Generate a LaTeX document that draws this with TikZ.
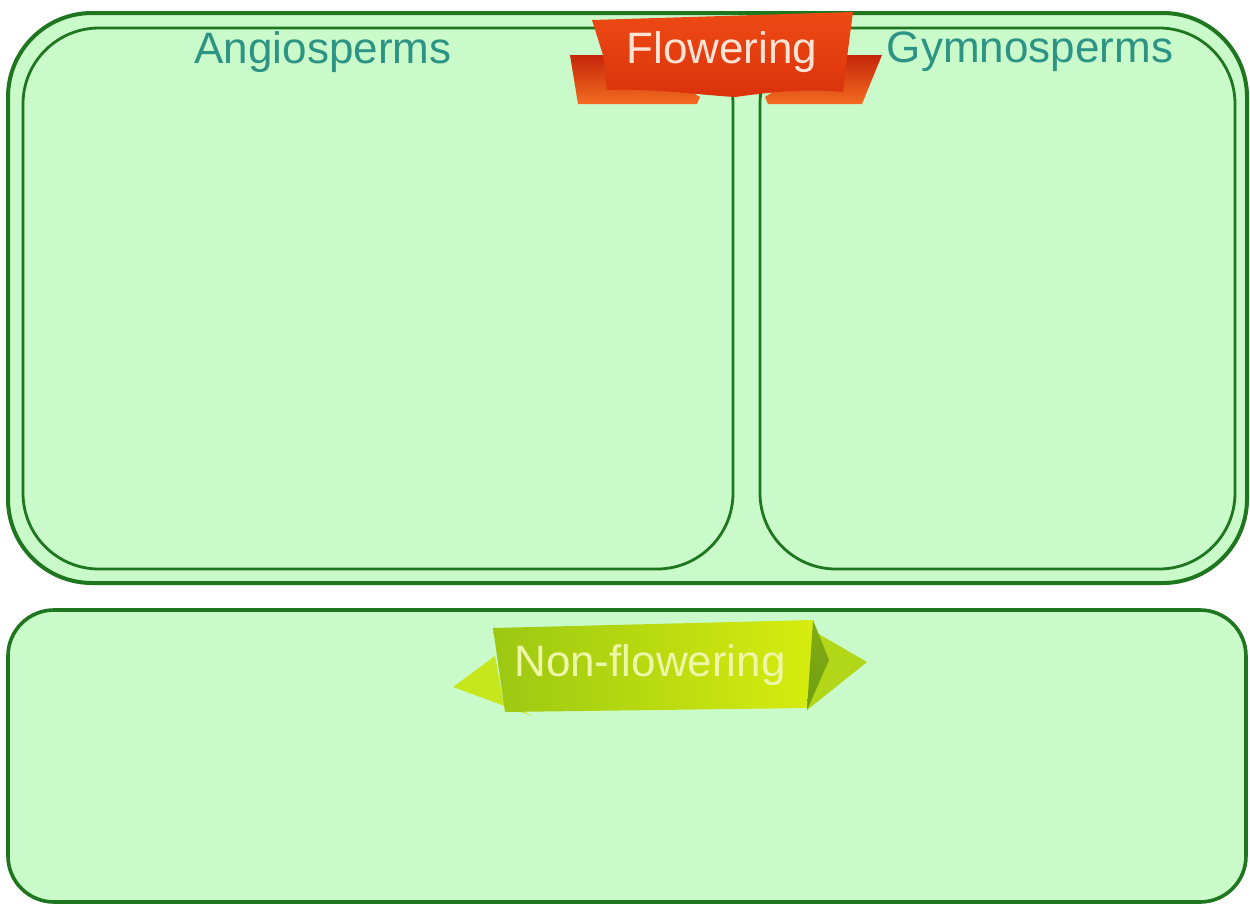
\documentclass[tikz,border=0pt]{standalone}
\usepackage{fontspec}
\setmainfont{Liberation Sans}
\definecolor{boxfill}{RGB}{202,250,202}
\definecolor{boxline}{RGB}{30,118,30}
\definecolor{teal}{RGB}{43,148,132}
\definecolor{redA}{RGB}{238,74,20}
\definecolor{redB}{RGB}{218,50,12}
\definecolor{redDark}{RGB}{196,38,10}
\definecolor{redLight}{RGB}{244,108,32}
\definecolor{flowtext}{RGB}{255,228,214}
\definecolor{limeA}{RGB}{156,200,18}
\definecolor{limeB}{RGB}{214,236,14}
\definecolor{limeTail}{RGB}{198,230,30}
\definecolor{limeTailR}{RGB}{178,214,24}
\definecolor{limeDark}{RGB}{110,158,18}
\definecolor{nftext}{RGB}{238,246,168}
\begin{document}
\begin{tikzpicture}[x=0.5pt,y=-0.5pt,
  outerbox/.style={draw=boxline,line width=2pt,fill=boxfill,rounded corners=42pt},
  innerbox/.style={draw=boxline,line width=1.4pt,rounded corners=38pt},
  lowbox/.style={draw=boxline,line width=1.8pt,fill=boxfill,rounded corners=23pt},
  title/.style={font=\fontsize{22}{24}\selectfont,text=teal,inner sep=0pt},
  bannertext/.style={font=\fontsize{22}{24}\selectfont,inner sep=0pt}]
\useasboundingbox (0,0) rectangle (1250,912);
\fill[white] (0,0) rectangle (1250,912);
% top group
\draw[outerbox] (8,13) rectangle (1247,583);
\draw[innerbox] (23,28) rectangle (733,569);
\draw[innerbox] (760,28) rectangle (1235,569);
% bottom box
\draw[lowbox] (8,610) rectangle (1246,902);
% Flowering ribbon
\shade[top color=redDark,bottom color=redLight] (570,55) -- (628,55) -- (700,97) -- (697,104) -- (578,104) -- cycle;
\shade[top color=redDark,bottom color=redLight] (882,55) -- (828,55) -- (765,97) -- (768,104) -- (862,104) -- cycle;
\shade[top color=redA,bottom color=redB] (592,20) -- (853,12) -- (848,50) -- (843,92)
  .. controls (800,88) and (765,93) .. (735,97)
  .. controls (700,95) and (650,88) .. (607,90) -- (603,55) -- cycle;
\node[bannertext,text=flowtext] (flow) at (722,52) {Flowering};
% titles
\node[title] (angio) at (323,52) {Angiosperms};
\node[title] (gymno) at (1030,52) {Gymnosperms};
% Non-flowering ribbon
\fill[limeTail] (453,687) -- (495,656) -- (503,700) -- (532,716) -- cycle;
\fill[limeTailR] (867,662) -- (817,633) -- (807,710) -- cycle;
\shade[left color=limeA,right color=limeB] (493,628) -- (813,620) -- (808,708) -- (505,712) -- cycle;
\shade[top color=limeDark!80!limeB,bottom color=limeDark] (813,620) -- (829,660) -- (807,710) -- cycle;
\node[bannertext,text=nftext] (nonflow) at (650,665) {Non-flowering};
\end{tikzpicture}
\end{document}
